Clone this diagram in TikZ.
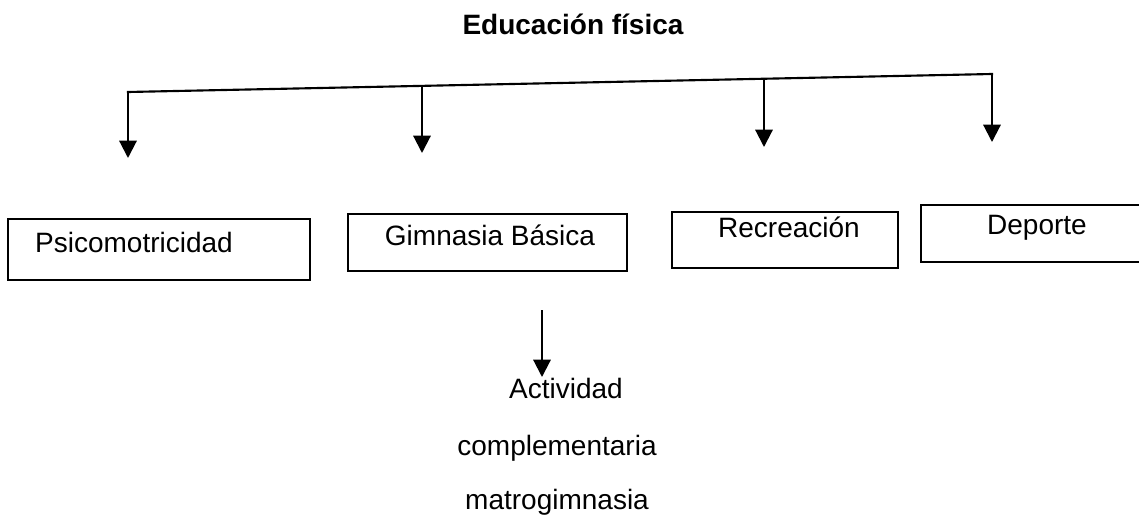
\documentclass[tikz,border=0pt]{standalone}
\usepackage{fontspec}
\setmainfont{Liberation Sans}
\usetikzlibrary{arrows.meta}

\tikzset{
  caja/.style={draw, line width=1.6pt, inner sep=0pt},
  texto/.style={anchor=base, inner sep=0.75pt, font=\fontsize{21}{24}\selectfont},
  linea/.style={line width=1.6pt, line cap=rect},
  flecha/.style={line width=1.6pt, -{Triangle[width=13pt,length=13pt]}},
}

\begin{document}
\begin{tikzpicture}[x=0.75pt,y=0.75pt,yscale=-1,xscale=1]
\useasboundingbox (0,0) rectangle (1139,517);
\clip (0,0) rectangle (1139,517);

%Shape: Rectangle [psico]
\node [caja, minimum width=226.5pt, minimum height=45.75pt] (psico) at (159,249.5) {};
%Shape: Rectangle [gimnasia]
\node [caja, minimum width=209.25pt, minimum height=42.75pt] (gimnasia) at (487.5,242.5) {};
%Shape: Rectangle [recreacion]
\node [caja, minimum width=169.5pt, minimum height=42pt] (recreacion) at (785,240) {};
%Shape: Rectangle [deporte] (cut at the right edge)
\node [caja, minimum width=179.25pt, minimum height=42.75pt] (deporte) at (1040.5,233.5) {};

% Text Node
\node [texto, font=\fontsize{21}{24}\selectfont\bfseries] (titulo) at (573,35) {Educación física};
% Text Node
\node [texto] (tpsico) at (134,252) {Psicomotricidad};
% Text Node
\node [texto] (tgimnasia) at (490,245) {Gimnasia Básica};
% Text Node
\node [texto] (trecreacion) at (789,237) {Recreación};
% Text Node
\node [texto] (tdeporte) at (1037,234) {Deporte};
% Text Node
\node [texto] (actividad) at (566,398) {Actividad};
% Text Node
\node [texto] (complem) at (557,455) {complementaria};
% Text Node
\node [texto] (matro) at (557,509) {matrogimnasia};

% branch points and arrow ends
\coordinate (b1) at (128,92);
\coordinate (b2) at (422,86);
\coordinate (b3) at (764,79);
\coordinate (b4) at (992,74);
\coordinate (f1) at (128,158);
\coordinate (f2) at (422,153);
\coordinate (f3) at (764,147);
\coordinate (f4) at (992,142);
\coordinate (g1) at (542,310);
\coordinate (g2) at (542,377);

%Straight Lines
\draw [linea] (b1) -- (b4);
%Straight Lines
\draw [flecha] (b1) -- (f1);
\draw [flecha] (b2) -- (f2);
\draw [flecha] (b3) -- (f3);
\draw [flecha] (b4) -- (f4);
%Straight Lines
\draw [flecha] (g1) -- (g2);

\end{tikzpicture}
\end{document}
